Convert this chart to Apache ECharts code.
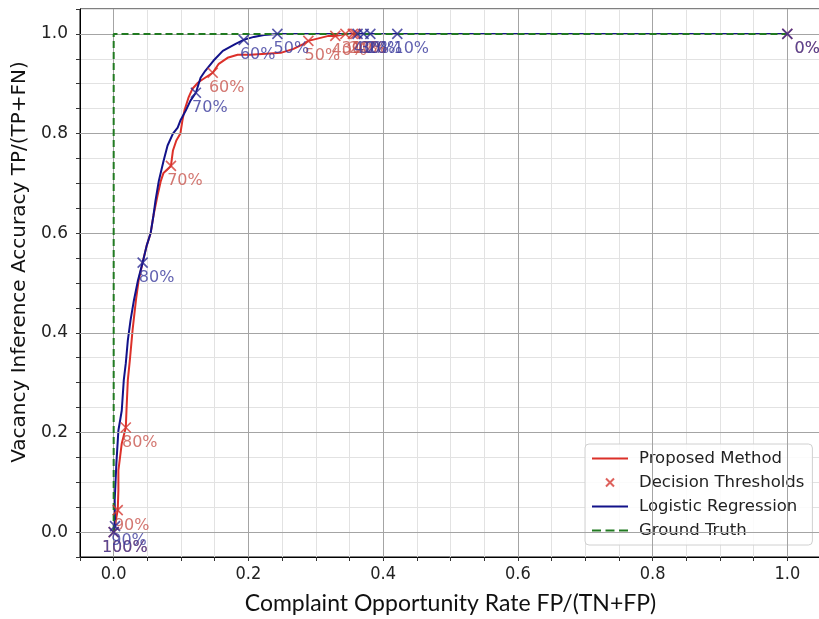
<!DOCTYPE html>
<html>
<head>
<meta charset="utf-8">
<script src="https://cdn.jsdelivr.net/npm/echarts@6/dist/echarts.min.js"></script>
<style>
  html, body { margin: 0; padding: 0; background: #fff; }
  #chart { width: 819px; height: 619px; }
</style>
</head>
<body>
<div id="chart"></div>
<script>
// ROC-style curves: false-positive rate vs. true-positive rate
const proposedFPR = [0, 0.003, 0.006, 0.007, 0.007, 0.012, 0.018, 0.019, 0.021, 0.024, 0.028, 0.033, 0.037, 0.043, 0.049, 0.055, 0.059, 0.065, 0.070, 0.074, 0.085, 0.088, 0.093, 0.099, 0.102, 0.105, 0.111, 0.117, 0.125, 0.129, 0.138, 0.147, 0.156, 0.169, 0.184, 0.203, 0.226, 0.248, 0.267, 0.282, 0.289, 0.307, 0.319, 0.329, 0.344, 0.355, 0.359, 1.0];
const proposedTPR = [0, 0.022, 0.044, 0.084, 0.124, 0.178, 0.210, 0.244, 0.305, 0.345, 0.405, 0.465, 0.505, 0.541, 0.575, 0.601, 0.635, 0.675, 0.705, 0.721, 0.735, 0.766, 0.786, 0.800, 0.826, 0.846, 0.872, 0.890, 0.902, 0.906, 0.914, 0.922, 0.940, 0.952, 0.958, 0.958, 0.960, 0.962, 0.970, 0.980, 0.986, 0.992, 0.996, 0.996, 1.0, 1.0, 1.0, 1.0];

const logisticFPR = [0, 0.002, 0.0015, 0.004, 0.007, 0.012, 0.015, 0.018, 0.021, 0.025, 0.030, 0.036, 0.043, 0.049, 0.055, 0.059, 0.062, 0.067, 0.074, 0.080, 0.088, 0.095, 0.099, 0.107, 0.114, 0.122, 0.129, 0.136, 0.148, 0.162, 0.181, 0.193, 0.208, 0.223, 0.243, 0.362, 0.371, 0.381, 0.393, 0.421, 1.0];
const logisticTPR = [0, 0.012, 0.064, 0.138, 0.204, 0.244, 0.305, 0.339, 0.385, 0.425, 0.465, 0.505, 0.541, 0.575, 0.601, 0.635, 0.665, 0.705, 0.745, 0.776, 0.800, 0.812, 0.826, 0.846, 0.866, 0.882, 0.912, 0.926, 0.946, 0.966, 0.980, 0.988, 0.994, 0.998, 1.0, 1.0, 1.0, 1.0, 1.0, 1.0, 1.0];

// Decision thresholds marked on each curve
const proposedThrNames = ['100%', '90%', '80%', '70%', '60%', '50%', '40%', '30%', '20%', '10%', '0%'];
const proposedThrFPR = [0, 0.006, 0.018, 0.085, 0.147, 0.289, 0.329, 0.344, 0.355, 0.359, 1.0];
const proposedThrTPR = [0, 0.044, 0.210, 0.735, 0.922, 0.986, 0.996, 1.0, 1.0, 1.0, 1.0];

const logisticThrNames = ['100%', '90%', '80%', '70%', '60%', '50%', '40%', '30%', '20%', '10%', '0%'];
const logisticThrFPR = [0, 0.002, 0.043, 0.122, 0.193, 0.243, 0.362, 0.371, 0.381, 0.421, 1.0];
const logisticThrTPR = [0, 0.012, 0.541, 0.882, 0.988, 1.0, 1.0, 1.0, 1.0, 1.0, 1.0];

// Ideal classifier
const truthFPR = [0, 0, 1];
const truthTPR = [0, 1, 1];

// Axis ticks
const majorTicks = [0, 0.2, 0.4, 0.6, 0.8, 1.0];
const tickLabels = ['0.0', '0.2', '0.4', '0.6', '0.8', '1.0'];

const RED = '#dc3029';
const RED_MARK = '#d63a33';
const RED_TEXT = '#c8554d';
const BLUE = '#12128a';
const BLUE_MARK = '#2c2c94';
const BLUE_TEXT = '#3a3a9c';
const GREEN = '#217a21';

const zip = (xs, ys) => xs.map((x, i) => [x, ys[i]]);

function tickFormatter(v) {
  for (let i = 0; i < majorTicks.length; i++) {
    if (Math.abs(v - majorTicks[i]) < 1e-6) return tickLabels[i];
  }
  return '';
}

const X_MARK = 'path://M0,0L10,10M10,0L0,10';

// label placement: just below each marker; end points nudged
function thresholdPoints(xs, ys, names) {
  return xs.map((x, i) => {
    const pt = { value: [x, ys[i]], name: names[i] };
    if (names[i] === '100%') pt.label = { position: [-6, 14] };
    if (names[i] === '0%') pt.label = { position: [13, 13] };
    return pt;
  });
}

const axisCommon = {
  type: 'value',
  min: -0.05,
  max: 1.05,
  interval: 0.05,
  axisLine: { show: true, onZero: false, lineStyle: { color: '#000', width: 1 } },
  axisTick: { show: true, inside: false, length: 4, lineStyle: { color: '#333' } },
  splitLine: { show: true, lineStyle: { color: '#e2e2e2', width: 1 } }
};

const LINE_ICON = 'path://M0,0H36V2H0Z';
const DASH_ICON = 'path://M0,0H9V2H0Z M13.5,0H22.5V2H13.5Z M27,0H36V2H27Z';
const X_ICON = 'path://M0,0M36,14M14,3L22,11M22,3L14,11';

const chart = echarts.init(document.getElementById('chart'), null, { renderer: 'canvas' });

chart.setOption({
  animation: false,
  backgroundColor: '#fff',
  grid: {
    left: 80, top: 9, right: -2, bottom: 62,
    outerBoundsMode: 'none',
    containLabel: false,
    show: true, borderColor: '#000', borderWidth: 1, backgroundColor: 'transparent'
  },
  xAxis: Object.assign({}, axisCommon, {
    name: 'Complaint Opportunity Rate FP/(TN+FP)',
    nameLocation: 'middle',
    nameGap: 35,
    nameTextStyle: { fontFamily: 'Lato', fontSize: 23, color: '#111' },
    axisLabel: {
      formatter: tickFormatter, margin: 8,
      fontFamily: 'Liberation Sans Narrow, DejaVu Sans Condensed, sans-serif', fontSize: 18, color: '#222'
    }
  }),
  yAxis: Object.assign({}, axisCommon, {
    name: 'Vacancy Inference Accuracy TP/(TP+FN)',
    nameLocation: 'middle',
    nameGap: 48,
    nameTextStyle: { fontFamily: 'DejaVu Sans', fontSize: 20, color: '#111', padding: [0, 0, 0, 42] },
    axisLabel: {
      formatter: tickFormatter, margin: 12,
      fontFamily: 'DejaVu Sans', fontSize: 17, color: '#222'
    }
  }),
  legend: {
    orient: 'vertical',
    left: 585, top: 444,
    padding: [6, 8, 6, 6],
    itemGap: 7,
    itemWidth: 36, itemHeight: 14,
    backgroundColor: 'rgba(255,255,255,0.85)',
    borderColor: '#d0d0d0', borderWidth: 1, borderRadius: 4,
    textStyle: { fontFamily: 'DejaVu Sans', fontSize: 16.5, color: '#222', padding: [0, 0, 0, 6] },
    data: [
      { name: 'Proposed Method', icon: LINE_ICON },
      { name: 'Decision Thresholds', icon: X_ICON },
      { name: 'Logistic Regression', icon: LINE_ICON },
      { name: 'Ground Truth', icon: DASH_ICON }
    ]
  },
  series: [
    {
      // major grid lines
      type: 'line', silent: true, data: [], z: 1,
      markLine: {
        silent: true, symbol: 'none', animation: false,
        label: { show: false },
        lineStyle: { color: '#a4a4a4', type: 'solid', width: 1 },
        data: majorTicks.map(v => ({ xAxis: v })).concat(majorTicks.map(v => ({ yAxis: v })))
      }
    },
    {
      name: 'Proposed Method', type: 'line', z: 3,
      data: zip(proposedFPR, proposedTPR),
      showSymbol: false, symbol: 'none',
      lineStyle: { color: RED, width: 2 }, itemStyle: { color: RED }
    },
    {
      name: 'Logistic Regression', type: 'line', z: 4,
      data: zip(logisticFPR, logisticTPR),
      showSymbol: false, symbol: 'none',
      lineStyle: { color: BLUE, width: 2 }, itemStyle: { color: BLUE }
    },
    {
      name: 'Ground Truth', type: 'line', z: 5,
      data: zip(truthFPR, truthTPR),
      showSymbol: false, symbol: 'none',
      lineStyle: { color: GREEN, width: 2, type: [7, 4] }, itemStyle: { color: GREEN }
    },
    {
      name: 'Decision Thresholds', type: 'scatter', z: 6,
      symbol: X_MARK, symbolSize: 10,
      data: thresholdPoints(proposedThrFPR, proposedThrTPR, proposedThrNames),
      itemStyle: { color: 'rgba(0,0,0,0)', borderColor: RED_MARK, borderWidth: 1.6 },
      label: {
        show: true, formatter: p => p.name, position: [2, 13],
        fontFamily: 'DejaVu Sans', fontSize: 16, color: RED_TEXT
      }
    },
    {
      name: 'Logistic Thresholds', type: 'scatter', z: 7,
      symbol: X_MARK, symbolSize: 10,
      data: thresholdPoints(logisticThrFPR, logisticThrTPR, logisticThrNames),
      itemStyle: { color: 'rgba(0,0,0,0)', borderColor: BLUE_MARK, borderWidth: 1.6 },
      label: {
        show: true, formatter: p => p.name, position: [2, 13],
        fontFamily: 'DejaVu Sans', fontSize: 16, color: BLUE_TEXT
      }
    }
  ]
});
</script>
</body>
</html>
